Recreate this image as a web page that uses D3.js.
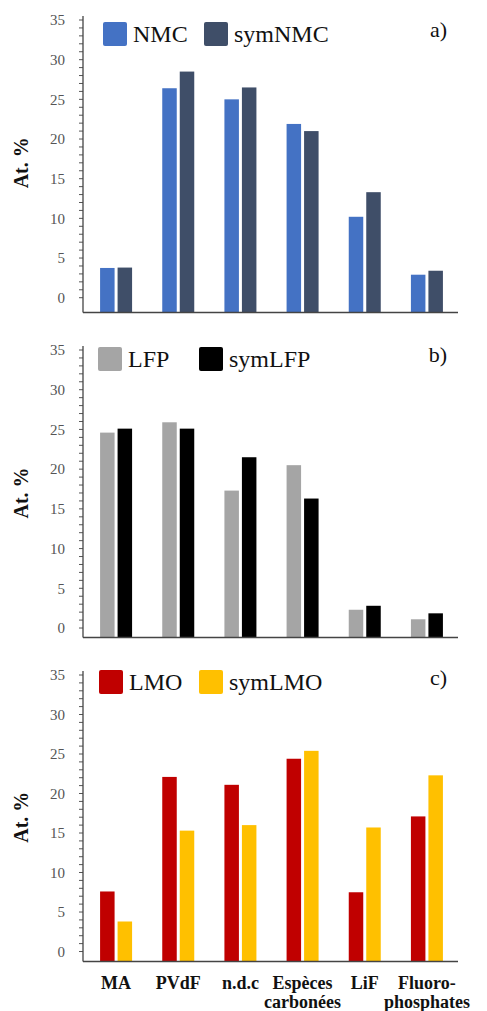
<!DOCTYPE html>
<html><head><meta charset="utf-8">
<script src="https://cdn.jsdelivr.net/npm/d3@7"></script>
<style>
html,body{margin:0;padding:0;background:#fff;}
svg{display:block;}
</style></head>
<body><svg id="c" width="487" height="1011"></svg>
<script>
const categories = ["MA","PVdF","n.d.c","Espèces\ncarbonées","LiF","Fluoro-\nphosphates"];
const yTicks = [0,5,10,15,20,25,30,35];
const nmc    = [3.75, 26.4, 25.0, 21.9, 10.2, 2.9];
const symNmc = [3.8, 28.5, 26.5, 21.0, 13.3, 3.4];
const lfp    = [24.6, 25.9, 17.3, 20.5, 2.3, 1.1];
const symLfp = [25.1, 25.1, 21.5, 16.3, 2.8, 1.85];
const lmo    = [7.6, 22.1, 21.1, 24.4, 7.5, 17.1];
const symLmo = [3.8, 15.3, 16.0, 25.4, 15.7, 22.3];

const panels = [
  {tag:"a)", names:["NMC","symNMC"], series:[nmc,symNmc], colors:["#4472c4","#3f4e68"], top:20, bottom:312, yMin:-1.8, legX:[103,204], legY:22},
  {tag:"b)", names:["LFP","symLFP"], series:[lfp,symLfp], colors:["#a5a5a5","#000000"], top:350, bottom:637, yMin:-1.13, legX:[98,199], legY:347},
  {tag:"c)", names:["LMO","symLMO"], series:[lmo,symLmo], colors:["#c00000","#ffc000"], top:675, bottom:961, yMin:-1.2, legX:[99,199], legY:670}
];
const FONT = "Liberation Serif";

const svg = d3.select("#c");
const left = 83, right = 458;
const x = d3.scaleBand().domain(categories).range([left+2, right]).paddingInner(0).paddingOuter(0);

panels.forEach((p, pi) => {
  const g = svg.append("g");
  const y = d3.scaleLinear().domain([p.yMin, 35]).range([p.bottom, p.top]);
  const bw = 14.5, gap = 3;
  p.series.forEach((s, si) => {
    g.selectAll(null).data(s).enter().append("rect")
      .attr("x", (d,i) => x(categories[i]) + x.bandwidth()/2 + (si===0 ? -(bw+gap/2) : gap/2))
      .attr("width", bw)
      .attr("y", d => y(d))
      .attr("height", d => y(p.yMin) - y(d))
      .attr("fill", p.colors[si]);
  });
  const minor = d3.range(0, 36, 1);
  g.selectAll(null).data(minor).enter().append("line")
    .attr("x1", left - 4).attr("x2", left)
    .attr("y1", d => y(d)).attr("y2", d => y(d))
    .attr("stroke", "#555").attr("stroke-width", 1);
  g.append("line").attr("x1", left).attr("x2", left)
    .attr("y1", y(35.5)).attr("y2", p.bottom + 0.5)
    .attr("stroke", "#444").attr("stroke-width", 1.3);
  g.append("line").attr("x1", left).attr("x2", right)
    .attr("y1", p.bottom + 0.5).attr("y2", p.bottom + 0.5)
    .attr("stroke", "#444").attr("stroke-width", 1.5);
  g.selectAll(null).data(yTicks).enter().append("text")
    .attr("x", 65).attr("y", d => y(d)).attr("dy", "0.35em")
    .attr("font-family", FONT)
    .attr("text-anchor", "end").attr("font-size", 15).attr("fill", "#555")
    .text(d => d);
  g.append("text")
    .attr("transform", `translate(28,${y(17)}) rotate(-90)`)
    .attr("font-family", FONT)
    .attr("text-anchor", "middle").attr("font-size", 20).attr("font-weight", "bold")
    .attr("fill", "#111").text("At. %");
  p.names.forEach((n, ni) => {
    g.append("rect").attr("x", p.legX[ni]).attr("y", p.legY).attr("width", 24).attr("height", 24)
      .attr("rx", 2).attr("fill", p.colors[ni]);
    g.append("text").attr("x", p.legX[ni] + 30).attr("y", p.legY + 20)
      .attr("font-family", FONT)
      .attr("font-size", 24).attr("fill", "#111").text(n);
  });
  g.append("text").attr("x", 447).attr("y", p.legY + 15).attr("text-anchor", "end")
    .attr("font-family", FONT)
    .attr("font-size", 22).attr("fill", "#111").text(p.tag);

  if (pi === 2) {
    const lab = svg.append("g").selectAll(null).data(categories).enter().append("text")
      .attr("x", d => x(d) + x.bandwidth()/2).attr("y", 989)
      .attr("font-family", FONT)
      .attr("text-anchor", "middle").attr("font-size", 18).attr("font-weight", "bold").attr("fill", "#111");
    lab.each(function(d) {
      const parts = d.split("\n");
      d3.select(this).selectAll("tspan").data(parts).enter().append("tspan")
        .attr("x", x(d) + x.bandwidth()/2).attr("dy", (t,i) => i ? 19 : 0).text(t => t);
    });
  }
});
</script></body></html>
